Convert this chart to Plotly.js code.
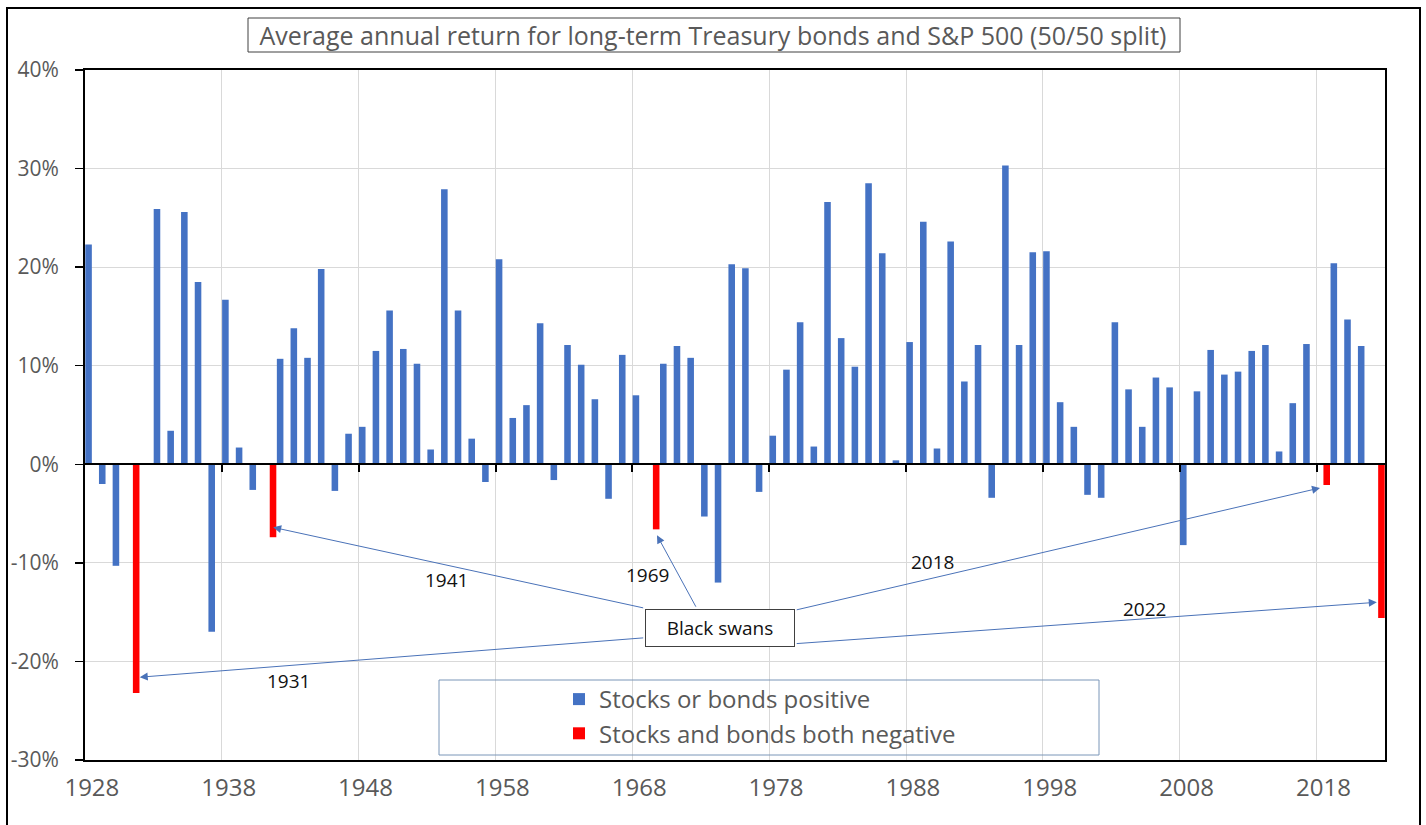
<!DOCTYPE html>
<html>
<head>
<meta charset="utf-8">
<script src="https://cdn.plot.ly/plotly-3.0.1.min.js"></script>
<style>
html,body{margin:0;padding:0;background:#fff;}
#chart{width:1426px;height:825px;}
</style>
</head>
<body>
<div id="chart"></div>
<script>
// ---- Data (average annual return, %, 50/50 S&P 500 / long-term Treasury bonds) ----
const years = [1928,1929,1930,1931,1932,1933,1934,1935,1936,1937,1938,1939,1940,1941,1942,1943,1944,1945,1946,1947,
  1948,1949,1950,1951,1952,1953,1954,1955,1956,1957,1958,1959,1960,1961,1962,1963,1964,1965,1966,1967,
  1968,1969,1970,1971,1972,1973,1974,1975,1976,1977,1978,1979,1980,1981,1982,1983,1984,1985,1986,1987,
  1988,1989,1990,1991,1992,1993,1994,1995,1996,1997,1998,1999,2000,2001,2002,2003,2004,2005,2006,2007,
  2008,2009,2010,2011,2012,2013,2014,2015,2016,2017,2018,2019,2020,2021,2022];

// Stocks or bonds positive (blue)
const positiveSeries = [22.3,-2.0,-10.3,null,0.1,25.9,3.4,25.6,18.5,-17.0,16.7,1.7,-2.6,null,10.7,13.8,10.8,19.8,-2.7,3.1,
  3.8,11.5,15.6,11.7,10.2,1.5,27.9,15.6,2.6,-1.8,20.8,4.7,6.0,14.3,-1.6,12.1,10.1,6.6,-3.5,11.1,
  7.0,null,10.2,12.0,10.8,-5.3,-12.0,20.3,19.9,-2.8,2.9,9.6,14.4,1.8,26.6,12.8,9.9,28.5,21.4,0.4,
  12.4,24.6,1.6,22.6,8.4,12.1,-3.4,30.3,12.1,21.5,21.6,6.3,3.8,-3.1,-3.4,14.4,7.6,3.8,8.8,7.8,
  -8.2,7.4,11.6,9.1,9.4,11.5,12.1,1.3,6.2,12.2,null,20.4,14.7,12.0,null];

// Stocks and bonds both negative (red)
const negativeSeries = [null,null,null,-23.2,null,null,null,null,null,null,null,null,null,-7.4,null,null,null,null,null,null,
  null,null,null,null,null,null,null,null,null,null,null,null,null,null,null,null,null,null,null,null,
  null,-6.6,null,null,null,null,null,null,null,null,null,null,null,null,null,null,null,null,null,null,
  null,null,null,null,null,null,null,null,null,null,null,null,null,null,null,null,null,null,null,null,
  null,null,null,null,null,null,null,null,null,null,-2.1,null,null,null,-15.6];

const seriesNames = ["Stocks or bonds positive", "Stocks and bonds both negative"];
const titleText = "Average annual return for long-term Treasury bonds and S&P 500 (50/50 split)";

const xLabelVals = [1928,1938,1948,1958,1968,1978,1988,1998,2008,2018];
const xLabelText = ["1928","1938","1948","1958","1968","1978","1988","1998","2008","2018"];
const xTickBounds = [1937.5,1947.5,1957.5,1967.5,1977.5,1987.5,1997.5,2007.5,2017.5];
const yTickVals = [-30,-20,-10,0,10,20,30,40];
const yTickText = ["-30%","-20%","-10%","0%","10%","20%","30%","40%"];

// Black swan callouts: label, arrow tip [year, %], arrow tail [year, %], label position [year, %]
const swanLabels = ["1941","1969","2018","1931","2022"];
const swanTips   = [[1941.25,-6.4],[1969.3,-7.2],[2017.75,-2.4],[1931.5,-21.6],[2021.9,-14.0]];
const swanTails  = [[1968.4,-14.6],[1972.2,-14.6],[1979.4,-14.8],[1968.4,-17.6],[1979.4,-18.2]];
const swanLabelPos = [[1953.9,-11.7],[1968.6,-11.2],[1989.4,-9.9],[1942.4,-22.0],[2004.9,-14.7]];

const BLUE = "#4472C4", RED = "#FF0000", GRAY = "#595959", FONT = "Open Sans, Noto Sans, sans-serif";

// Blue bar in the left half of each year slot, red bar in the right half (clustered layout)
const traces = [
  {type:"bar", x:years, y:positiveSeries, name:seriesNames[0], marker:{color:BLUE}, legendgroup:"a",
   width:0.48, offset:-0.48, xaxis:"x", yaxis:"y", hoverinfo:"x+y"},
  {type:"bar", x:years, y:negativeSeries, name:seriesNames[1], marker:{color:RED}, legendgroup:"b",
   width:0.48, offset:0, xaxis:"x2", yaxis:"y", hoverinfo:"x+y"}
];

const annotations = [];
for (let i = 0; i < swanLabels.length; i++) {
  annotations.push({
    x: swanTips[i][0], y: swanTips[i][1], xref:"x", yref:"y",
    ax: swanTails[i][0], ay: swanTails[i][1], axref:"x", ayref:"y",
    text:"", showarrow:true, arrowhead:2, arrowsize:1.6, arrowwidth:1, arrowcolor:"#4a72b8", standoff:0
  });
  annotations.push({
    x: swanLabelPos[i][0], y: swanLabelPos[i][1], xref:"x", yref:"y",
    text: swanLabels[i], showarrow:false, font:{family:FONT, size:19, color:"#111"}
  });
}
annotations.push({
  x: 1973.9, y: -16.6, xref:"x", yref:"y", text:"Black swans", showarrow:false,
  font:{family:FONT, size:19, color:"#111"}, bgcolor:"#fff", bordercolor:"#404040", borderwidth:1,
  width:146, height:34, borderpad:1
});

const layout = {
  width:1426, height:825,
  margin:{l:85, r:41, t:70, b:65},
  paper_bgcolor:"#fff", plot_bgcolor:"#fff",
  font:{family:FONT, color:GRAY},
  title:{text:titleText, font:{family:FONT, size:25, color:GRAY}, x:0.5, xref:"container", xanchor:"center",
         y:1-36/825, yref:"container", yanchor:"middle"},
  barmode:"overlay",
  showlegend:true,
  legend:{x:(559-85)/1300, xanchor:"left", y:(760-677)/690, yanchor:"top", bgcolor:"rgba(0,0,0,0)",
          borderwidth:0, font:{family:FONT, size:24, color:GRAY}, tracegroupgap:6, traceorder:"normal"},
  xaxis:{range:[1927.5,2022.5], tickvals:xLabelVals, ticktext:xLabelText, ticks:"", showgrid:false,
         showline:true, linecolor:"#000", linewidth:2, mirror:true, zeroline:false, ticklabelstandoff:5,
         tickfont:{family:FONT, size:24, color:GRAY}, fixedrange:true},
  xaxis2:{overlaying:"x", anchor:"free", position:30/70, range:[1927.5,2022.5],
          tickvals:xTickBounds, ticks:"outside", ticklen:7, tickwidth:2, tickcolor:"#000",
          showticklabels:false, showgrid:true, gridcolor:"#d9d9d9", gridwidth:1,
          showline:true, linecolor:"#000", linewidth:2, zeroline:false, fixedrange:true},
  yaxis:{range:[-30,40], tickvals:yTickVals, ticktext:yTickText, ticks:"outside", ticklen:8, tickwidth:1.5,
         tickcolor:"#000", showgrid:true, gridcolor:"#d9d9d9", gridwidth:1, zeroline:false,
         showline:true, linecolor:"#000", linewidth:2, mirror:true, ticklabelstandoff:12,
         tickfont:{family:FONT, size:21, color:GRAY}, fixedrange:true},
  annotations:annotations,
  shapes:[
    {type:"rect", xref:"paper", yref:"paper", x0:(248-85)/1300, x1:(1180-85)/1300, y0:(760-52)/690, y1:(760-18)/690,
     line:{color:"#404040", width:1}},
    {type:"rect", xref:"paper", yref:"paper", x0:(439-85)/1300, x1:(1099-85)/1300, y0:(760-755)/690, y1:(760-680)/690,
     line:{color:"#7a96b8", width:1}},
    {type:"rect", xref:"paper", yref:"paper", x0:(7-85)/1300, x1:(1420-85)/1300, y0:(760-840)/690, y1:(760-8)/690,
     line:{color:"#000", width:2}}
  ]
};

Plotly.newPlot("chart", traces, layout, {displayModeBar:false, staticPlot:true});
</script>
</body>
</html>
